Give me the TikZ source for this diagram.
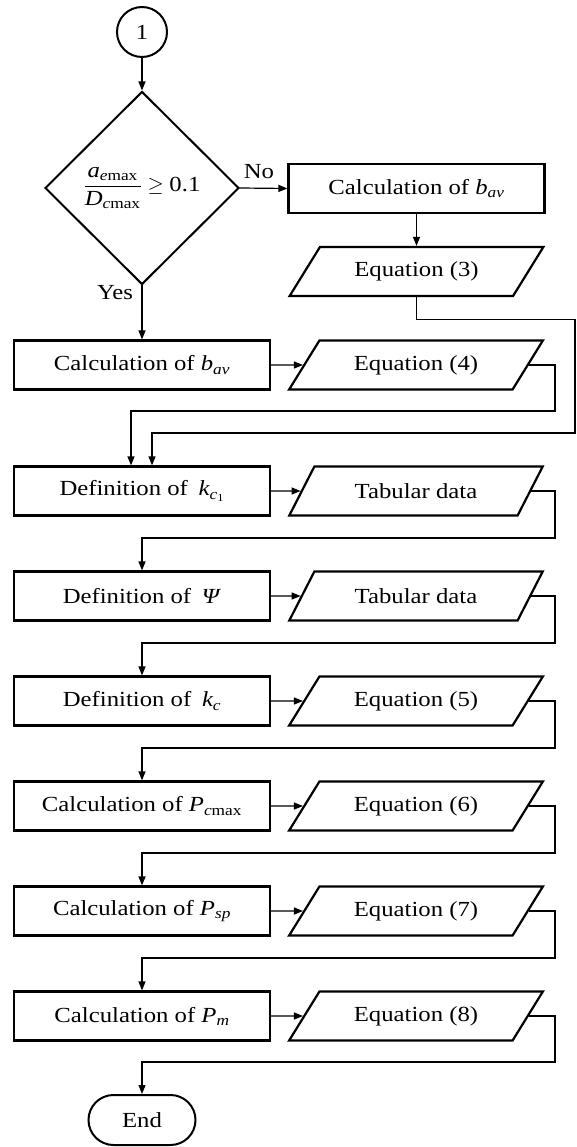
\documentclass[tikz,border=0pt]{standalone}
\usepackage{amsmath}
\usepackage{fontspec}
\setmainfont{Liberation Serif}[FakeStretch=1.15]
\usetikzlibrary{shapes.geometric,arrows.meta,positioning}

\tikzset{
	every node/.style={font=\fontsize{21.5}{25}\selectfont},
	proc/.style={draw, rectangle, line width=2.2pt, minimum width=256pt, minimum height=49pt, inner sep=0pt},
	io/.style={draw, trapezium, trapezium left angle=45, trapezium right angle=135, trapezium stretches=true,
		line width=2.2pt, minimum width=254pt, minimum height=49pt, inner sep=0pt},
	decision/.style={draw, diamond, line width=2pt, minimum width=194pt, minimum height=193pt, inner sep=0pt},
	terminal/.style={draw, rectangle, rounded corners=25pt, line width=2pt, minimum width=107pt, minimum height=50pt},
	connector/.style={draw, circle, line width=2pt, minimum size=50pt, inner sep=0pt},
}

\begin{document}
\begin{tikzpicture}[x=1pt, y=-1pt, >={Triangle[length=9pt,width=7pt]}, line width=1.2pt]
	
	\useasboundingbox (0,0) rectangle (576,1147);
	
	% start and check of the ratio
	\node[connector] (start) at (142,32) {1};
	\node[decision]  (check) at (142,188) {$\dfrac{\textit{a}_{\textit{e}\text{max}}}{\textit{D}_{\textit{c}\text{max}}}\geq\text{0.1}$};
	
	% branch "No"
	\node[proc] (bavR) at (416.5,188.5) {Calculation of $\textit{b}_{\textit{av}}$};
	\node[io]   (eq3)  at (416.5,271.5) {Equation (3)};
	
	% branch "Yes"
	\node[proc] (bavL) at (142,365) {Calculation of $\textit{b}_{\textit{av}}$};
	\node[io]   (eq4)  at (416,365)   {Equation (4)};
	
	% main column
	\node[proc] (kc1)  at (142,491)  {Definition of\enspace$\textit{k}_{\textit{c}_{\text{1}}}$};
	\node[io]   (tab1) at (416,491)  {Tabular data};
	\node[proc] (psi)  at (142,596)  {Definition of\enspace\textit{Ψ}};
	\node[io]   (tab2) at (416,596)  {Tabular data};
	\node[proc] (kc)   at (142,701)  {Definition of\enspace$\textit{k}_{\textit{c}}$};
	\node[io]   (eq5)  at (416,701)  {Equation (5)};
	\node[proc] (pmax) at (142,806)  {Calculation of $\textit{P}_{\textit{c}\text{max}}$};
	\node[io]   (eq6)  at (416,806)  {Equation (6)};
	\node[proc] (psp)  at (142,911)  {Calculation of $\textit{P}_{\textit{sp}}$};
	\node[io]   (eq7)  at (416,911)  {Equation (7)};
	\node[proc] (pm)   at (142,1016) {Calculation of $\textit{P}_{\textit{m}}$};
	\node[io]   (eq8)  at (416,1016) {Equation (8)};
	\node[terminal] (stop) at (142,1120) {End};
	
	% connections
	\draw[->] (start) -- (check);
	\draw[->] (check.east) -- node[above=6pt, pos=0.4] {No} (bavR.west);
	\draw[->] (check.south) -- node[left=5pt, pos=0.13] {Yes} (bavL.north);
	\draw[->] (bavR) -- (eq3);
	\draw[->] (bavL.east) -- (eq4.west);
	\draw[->] (eq3.south) -- ++(0,22) -| (575,433) -| ([xshift=10pt]kc1.north);
	\draw[->] (eq4.east) -| (555,411) -| ([xshift=-11pt]kc1.north);
	
	\draw[->] (kc1.east) -- (tab1.west);
	\draw[->] (tab1.east) -| (555,538) -| (psi.north);
	\draw[->] (psi.east) -- (tab2.west);
	\draw[->] (tab2.east) -| (555,643) -| (kc.north);
	\draw[->] (kc.east) -- (eq5.west);
	\draw[->] (eq5.east) -| (555,748) -| (pmax.north);
	\draw[->] (pmax.east) -- (eq6.west);
	\draw[->] (eq6.east) -| (555,853) -| (psp.north);
	\draw[->] (psp.east) -- (eq7.west);
	\draw[->] (eq7.east) -| (555,958) -| (pm.north);
	\draw[->] (pm.east) -- (eq8.west);
	\draw[->] (eq8.east) -| (555,1062) -| (stop.north);
	
\end{tikzpicture}
\end{document}
